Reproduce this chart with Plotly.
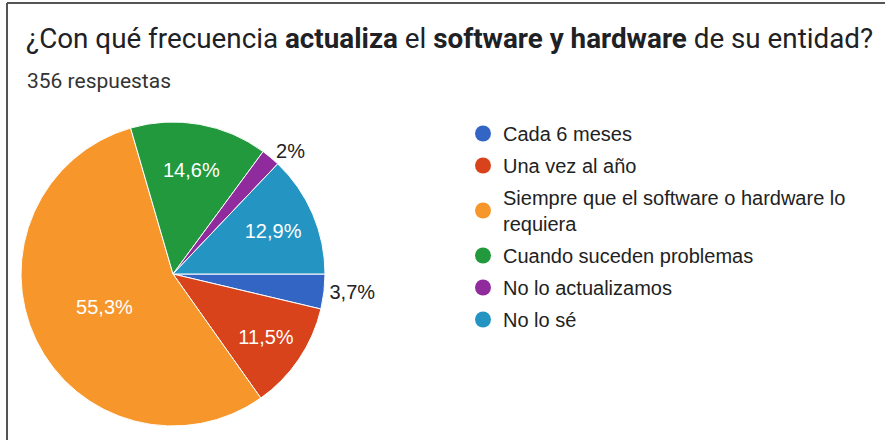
import plotly.graph_objects as go

W, H = 885, 440

categories = [
    "Cada 6 meses",
    "Una vez al año",
    "Siempre que el software o hardware lo<br>requiera",
    "Cuando suceden problemas",
    "No lo actualizamos",
    "No lo sé",
]
percentages = [3.7, 11.5, 55.3, 14.6, 2.0, 12.9]
colors = ["#3366c4", "#d8431b", "#f7962b", "#22993c", "#8f2b9c", "#2495c2"]
label_positions = ["outside", "inside", "inside", "inside", "outside", "inside"]

title = "¿Con qué frecuencia <b>actualiza</b> el <b>software y hardware</b> de su entidad?"
subtitle = "356 respuestas"


def px_x(x):
    return x / W


def px_y(y):
    return 1 - y / H


def fmt(v):
    return ("%g" % v).replace(".", ",") + "%"


fig = go.Figure()

fig.add_trace(
    go.Pie(
        labels=categories,
        values=percentages,
        text=[fmt(v) for v in percentages],
        textinfo="text",
        textposition=label_positions,
        insidetextorientation="horizontal",
        textfont=dict(
            family="Liberation Sans, Arial",
            size=20,
            color=["#222222" if p == "outside" else "#ffffff" for p in label_positions],
        ),
        marker=dict(colors=colors, line=dict(color="#ffffff", width=1)),
        sort=False,
        direction="clockwise",
        rotation=90,
        showlegend=False,
        hoverinfo="label+percent",
        domain=dict(x=[px_x(21), px_x(325)], y=[px_y(426), px_y(122)]),
    )
)

# legend with round markers
for name, color in zip(categories, colors):
    fig.add_trace(
        go.Scatter(
            x=[None],
            y=[None],
            mode="markers",
            name=name,
            legendgroup=name,
            marker=dict(color=color, size=16, symbol="circle"),
            showlegend=True,
        )
    )

fig.add_annotation(
    text=title, xref="paper", yref="paper", x=px_x(24), y=px_y(38),
    xanchor="left", yanchor="middle", showarrow=False,
    font=dict(family="Roboto", size=27.8, color="#202124"),
)
fig.add_annotation(
    text=subtitle, xref="paper", yref="paper", x=px_x(25), y=px_y(81),
    xanchor="left", yanchor="middle", showarrow=False,
    font=dict(family="Roboto", size=21, color="#333333"),
)

# frame lines (top and left)
fig.add_shape(type="line", xref="paper", yref="paper", x0=px_x(7), x1=1, y0=px_y(3), y1=px_y(3),
              line=dict(color="#555555", width=2))
fig.add_shape(type="line", xref="paper", yref="paper", x0=px_x(7), x1=px_x(7), y0=0, y1=px_y(3),
              line=dict(color="#555555", width=2))

fig.update_layout(
    width=W,
    height=H,
    margin=dict(l=0, r=0, t=0, b=0),
    paper_bgcolor="#ffffff",
    plot_bgcolor="#ffffff",
    xaxis=dict(visible=False),
    yaxis=dict(visible=False),
    legend=dict(
        x=px_x(463), y=px_y(114), xanchor="left", yanchor="top",
        font=dict(family="Liberation Sans, Arial", size=20, color="#222222"),
        bgcolor="rgba(0,0,0,0)",
        tracegroupgap=3,
        itemclick=False,
    ),
)

fig.write_html(
    "out.html",
    config={"displayModeBar": False},
    post_script="document.body.style.margin = '0px';",
)
